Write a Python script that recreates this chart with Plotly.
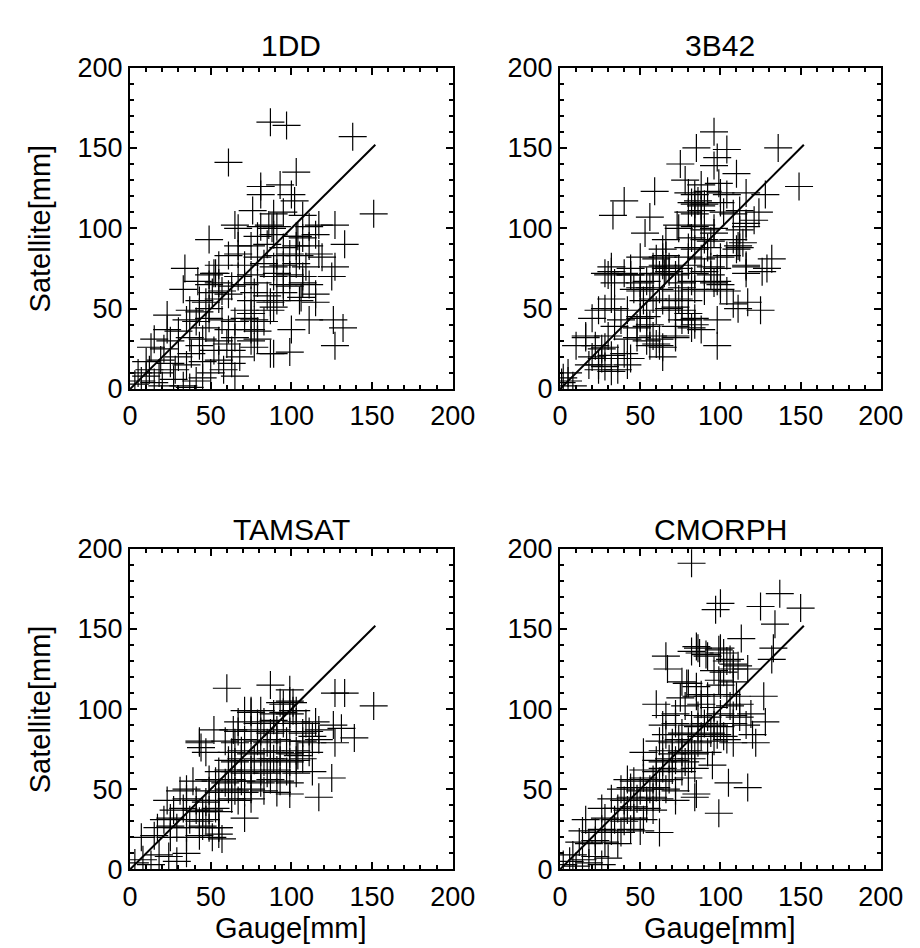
import plotly.graph_objects as go
from plotly.subplots import make_subplots

panel_titles = ["1DD", "3B42", "TAMSAT", "CMORPH"]
tick_values = [0, 50, 100, 150, 200]
tick_labels = ["0", "50", "100", "150", "200"]
ref_line_x = [0, 152]
ref_line_y = [0, 152]

gauge_1dd = [3, 7, 15, 27, 33, 41, 45, 65, 20, 37,
             10, 19, 25, 35, 45, 55, 63,
             13, 21, 43, 63, 77, 89, 99,
             15, 25, 37, 45, 55, 65, 75, 79,
             23, 30, 47, 61, 75, 79, 100,
             35, 41, 49, 57, 65, 71, 77, 83, 111, 126,
             23, 37, 43, 49, 71, 75, 87, 89,
             43, 47, 55, 75, 87, 91, 105, 115,
             33, 51, 57, 61, 77, 85, 95, 115,
             49, 55, 63, 71, 79, 95, 99, 107, 111,
             49, 53, 67, 75, 89, 91, 99, 107, 125,
             34, 55, 71, 83, 89, 95, 103, 109, 127,
             61, 67, 79, 91, 99, 105, 117, 119,
             67, 75, 85, 95, 103, 111, 133,
             49, 79, 89, 103, 107, 115,
             65, 67, 81, 86, 88, 91, 111, 117, 127,
             76, 89, 95, 107, 151,
             81, 81, 93, 100, 102, 103, 61, 87, 97, 138,
             42, 52, 104, 106, 132, 127, 87, 5, 10, 12, 18, 28, 30, 38, 52, 58, 50, 60, 68]
sat_1dd = [3, 5, 4, 6, 2, 5, 7, 8, 2, 1,
           17, 18, 16, 15, 17, 18, 16,
           26, 25, 27, 24, 26, 22, 23,
           31, 30, 32, 31, 30, 32, 30, 31,
           37, 36, 38, 37, 37, 36, 37,
           43, 42, 44, 43, 42, 44, 43, 42, 43, 43,
           46, 49, 48, 50, 49, 47, 49, 51,
           55, 54, 56, 55, 54, 55, 55, 54,
           62, 60, 61, 59, 60, 58, 60, 59,
           65, 66, 64, 65, 66, 65, 64, 66, 65,
           71, 72, 70, 71, 70, 72, 71, 70, 70,
           75, 77, 77, 78, 76, 77, 78, 76, 76,
           83, 84, 82, 83, 84, 83, 84, 82,
           89, 89, 90, 88, 89, 89, 90,
           93, 95, 96, 95, 94, 96,
           102, 100, 101, 102, 100, 101, 101, 102, 102,
           111, 109, 110, 108, 109,
           121, 126, 127, 121, 117, 135, 141, 166, 164, 157,
           67, 72, 95, 57, 38, 27, 22, 10, 8, 12, 10, 12, 20, 22, 24, 12, 10, 28, 20]

gauge_3b42 = [96, 85, 136, 104, 98, 96, 75, 110, 78, 88, 99, 116, 149, 128, 59, 40, 33, 56, 53, 73,
              84, 88, 124, 121, 116, 88, 96, 111, 114, 116, 132, 129, 66, 30, 32, 44, 50, 108, 111, 125,
              117, 98, 98, 88,
              2, 5, 10, 16, 24, 26, 32, 36, 50, 54, 62, 64, 58, 72, 76, 80,
              1, 5, 8,
              18, 24, 28, 36, 42,
              20, 26, 32, 40, 44,
              22, 28, 56, 60, 64,
              16, 30, 42, 48, 54, 62, 72,
              34, 48, 56, 72, 82, 84,
              20, 38, 50, 54, 80, 84,
              24, 28, 34, 42, 60, 68, 72, 76,
              32, 52, 58, 64, 74, 80,
              46, 50, 56, 62, 72, 76, 84, 90, 100, 104,
              34, 50, 54, 76, 82, 96, 98, 100,
              28, 40, 44, 58, 62, 65, 68, 72, 84, 90, 94, 116, 126,
              32, 44, 58, 64, 68, 74, 80, 94, 98, 116,
              50, 60, 64, 66, 80, 88, 100, 104,
              64, 80, 84, 92, 110, 112,
              66, 82, 90, 94, 108,
              74, 84, 90, 96, 112, 116,
              80, 84, 88, 102, 108, 112,
              82, 86, 90, 100,
              80, 84, 92, 100, 104]
sat_3b42 = [160, 150, 150, 149, 144, 139, 140, 134, 130, 127, 128, 122, 126, 121, 123, 117, 108, 107, 97, 102,
            115, 114, 110, 105, 103, 102, 97, 89, 91, 76, 81, 75, 75, 71, 73, 71, 63, 53, 50, 49,
            54, 27, 43, 37,
            7, 10, 27, 33, 15, 25, 11, 19, 45, 39, 27, 20, 33, 33, 43, 47,
            4, 5, 2,
            15, 12, 14, 12, 15,
            20, 19, 21, 22, 19,
            27, 26, 27, 28, 26,
            32, 33, 31, 32, 30, 31, 32,
            39, 38, 40, 39, 38, 40,
            44, 43, 44, 45, 43, 44,
            49, 50, 50, 49, 49, 50, 51, 49,
            56, 55, 56, 55, 56, 55,
            62, 61, 63, 62, 61, 63, 62, 61, 62, 61,
            66, 66, 67, 66, 67, 66, 67, 65,
            72, 72, 71, 72, 71, 72, 73, 71, 72, 73, 71, 72, 73,
            76, 75, 76, 77, 76, 75, 77, 76, 75, 77,
            82, 81, 82, 83, 82, 81, 82, 83,
            87, 88, 87, 88, 87, 88,
            93, 94, 93, 92, 93,
            100, 101, 99, 100, 99, 101,
            110, 109, 111, 110, 109, 111,
            116, 117, 115, 116,
            122, 121, 123, 122, 121]

gauge_tamsat = [60, 87, 99, 101, 127, 133, 151, 126, 131, 139, 117, 113, 71, 75, 52, 64, 44, 43, 89, 104,
                125, 127, 117, 99, 71, 55, 57,
                3, 8, 13, 18, 24, 29, 35,
                7, 15, 25, 35, 43, 51, 55,
                17, 25, 29, 35, 45, 49, 55,
                21, 25, 37, 43, 47,
                27, 33, 41, 45, 49, 53, 55,
                23, 35, 41, 47, 55, 63, 67, 75,
                31, 35, 49, 55, 61, 65, 71, 75, 83, 91,
                39, 49, 53, 59, 63, 69, 75, 81, 87, 93, 99,
                55, 61, 65, 71, 75, 81, 85, 91, 97, 103, 113,
                61, 65, 69, 77, 83, 87, 93, 99, 103, 107,
                47, 63, 69, 75, 81, 87, 93, 99, 103, 111,
                43, 59, 65, 71, 79, 85, 91, 97, 107, 113, 117,
                67, 75, 81, 87, 91, 99, 107, 111,
                67, 79, 83, 89, 95, 103, 109, 115,
                75, 81, 89, 95, 99, 103,
                93, 95, 99, 101]
sat_tamsat = [113, 115, 112, 99, 110, 110, 102, 90, 88, 82, 87, 83, 99, 99, 87, 87, 76, 79, 69, 71,
              57, 79, 45, 47, 32, 26, 19,
              4, 6, 3, 9, 8, 5, 10,
              20, 21, 20, 20, 21, 20, 22,
              26, 27, 26, 26, 27, 26, 26,
              31, 32, 31, 30, 31,
              37, 38, 37, 36, 37, 38, 36,
              43, 44, 43, 42, 43, 44, 43, 44,
              49, 50, 49, 48, 50, 49, 48, 50, 49, 48,
              55, 56, 55, 54, 56, 55, 55, 54, 56, 55, 54,
              61, 62, 61, 60, 62, 61, 60, 62, 61, 60, 61,
              68, 67, 69, 68, 67, 69, 68, 67, 68, 69,
              73, 73, 74, 72, 73, 74, 73, 72, 74, 73,
              80, 80, 79, 81, 80, 79, 81, 80, 80, 79, 81,
              86, 87, 86, 85, 87, 86, 85, 86,
              92, 91, 92, 93, 91, 92, 91, 92,
              98, 99, 97, 98, 97, 99,
              104, 103, 105, 104]

gauge_cmorph = [82, 137, 125, 150, 97, 100, 134, 85, 87, 91, 99, 102, 113, 106, 111, 117, 133, 132, 66, 67,
                79, 99, 85, 60, 75, 85, 127, 128, 119, 122, 105, 117, 99, 95, 85,
                82, 86, 92, 100, 104, 108,
                12, 18, 22, 28, 36,
                2, 6, 10, 14, 18, 22, 26, 30, 8,
                14, 22, 26, 32, 38, 44, 50, 62,
                16, 28, 34, 40, 46, 52,
                26, 36, 42, 46, 54, 58,
                32, 40, 44, 48, 54, 58, 62, 72, 84,
                38, 44, 50, 56, 60, 66, 72,
                42, 46, 52, 58, 62, 68, 80,
                52, 60, 64, 70, 76, 84,
                60, 64, 68, 72, 78, 82,
                52, 64, 70, 76, 80, 84, 92,
                62, 70, 74, 80, 86, 96, 104, 108,
                66, 76, 82, 88, 94, 98, 102, 120,
                64, 72, 82, 86, 90, 96, 100, 108, 116,
                66, 72, 86, 92, 100, 108, 112,
                78, 88, 96, 106, 112,
                88, 92, 104, 110,
                76, 80, 100, 108,
                96, 102, 108]
sat_cmorph = [191, 172, 164, 163, 162, 166, 153, 139, 135, 134, 137, 135, 144, 131, 127, 125, 138, 131, 133, 125,
              116, 118, 114, 103, 107, 108, 108, 92, 97, 79, 54, 51, 35, 65, 47,
              136, 138, 133, 138, 130, 128,
              17, 16, 18, 17, 16,
              3, 5, 2, 6, 4, 8, 3, 7, 9,
              24, 23, 25, 24, 23, 25, 24, 23,
              31, 32, 31, 30, 32, 31,
              38, 38, 37, 39, 38, 37,
              44, 43, 45, 44, 43, 45, 44, 43, 45,
              50, 51, 49, 50, 51, 50, 49,
              56, 55, 57, 56, 55, 56, 57,
              62, 61, 63, 62, 61, 63,
              68, 67, 69, 68, 67, 69,
              73, 74, 72, 73, 74, 72, 73,
              80, 79, 81, 80, 79, 80, 81, 79,
              84, 85, 84, 83, 85, 84, 83, 84,
              90, 91, 90, 89, 91, 90, 89, 91, 90,
              96, 97, 96, 95, 97, 96, 95,
              102, 103, 101, 102, 103,
              109, 108, 109, 108,
              117, 116, 115, 117,
              124, 123, 125]

datasets = [(gauge_1dd, sat_1dd), (gauge_3b42, sat_3b42),
            (gauge_tamsat, sat_tamsat), (gauge_cmorph, sat_cmorph)]

FONT = "Liberation Sans"
W, H = 920, 948
fig = make_subplots(rows=2, cols=2)

x_domains = [[118 / W, 452 / W], [563 / W, 895 / W]]
y_domains = [[1 - 378 / H, 1 - 46 / H], [1 - 874 / H, 1 - 543 / H]]

for i, (gx, sy) in enumerate(datasets):
    r, c = i // 2 + 1, i % 2 + 1
    fig.add_trace(go.Scatter(x=gx, y=sy, mode="markers",
                             marker=dict(symbol="cross-thin", size=20,
                                         line=dict(width=1.2, color="black"), color="black"),
                             showlegend=False, hoverinfo="x+y"), row=r, col=c)
    fig.add_trace(go.Scatter(x=ref_line_x, y=ref_line_y, mode="lines",
                             line=dict(color="black", width=2), showlegend=False), row=r, col=c)

axis_common = dict(range=[0, 200], tickvals=tick_values, ticktext=tick_labels,
                   ticks="inside", ticklen=7, tickwidth=2, tickcolor="black",
                   minor=dict(dtick=10, ticks="inside", ticklen=4, tickwidth=1.5, tickcolor="black"),
                   showline=True, linewidth=2, linecolor="black", mirror="ticks",
                   showgrid=False, zeroline=False,
                   tickfont=dict(family=FONT, size=27, color="black"))

for i in range(4):
    r, c = i // 2, i % 2
    fig.update_xaxes(domain=x_domains[c], ticklabelstandoff=2, **axis_common, row=r + 1, col=c + 1)
    fig.update_yaxes(domain=y_domains[r], **axis_common, row=r + 1, col=c + 1)

annotations = []
title_y = [1 - 23 / H, 1 - 523 / H]
for i, t in enumerate(panel_titles):
    r, c = i // 2, i % 2
    xc = (x_domains[c][0] + x_domains[c][1]) / 2
    annotations.append(dict(text=t, x=xc, y=title_y[r], xref="paper", yref="paper",
                            showarrow=False, xanchor="center", yanchor="middle",
                            font=dict(family=FONT, size=30, color="black")))
for r in range(2):
    yc = (y_domains[r][0] + y_domains[r][1]) / 2
    annotations.append(dict(text="Satellite[mm]", x=25 / W, y=yc, xref="paper", yref="paper",
                            showarrow=False, textangle=-90, xanchor="center", yanchor="middle",
                            font=dict(family=FONT, size=29, color="black")))
for c in range(2):
    xc = (x_domains[c][0] + x_domains[c][1]) / 2
    annotations.append(dict(text="Gauge[mm]", x=xc, y=1 - 935 / H, xref="paper", yref="paper",
                            showarrow=False, xanchor="center", yanchor="middle",
                            font=dict(family=FONT, size=29, color="black")))

fig.update_layout(width=W, height=H, margin=dict(l=0, r=0, t=0, b=0),
                  paper_bgcolor="white", plot_bgcolor="white",
                  annotations=annotations, font=dict(family=FONT))

fig.write_html("out.html")
